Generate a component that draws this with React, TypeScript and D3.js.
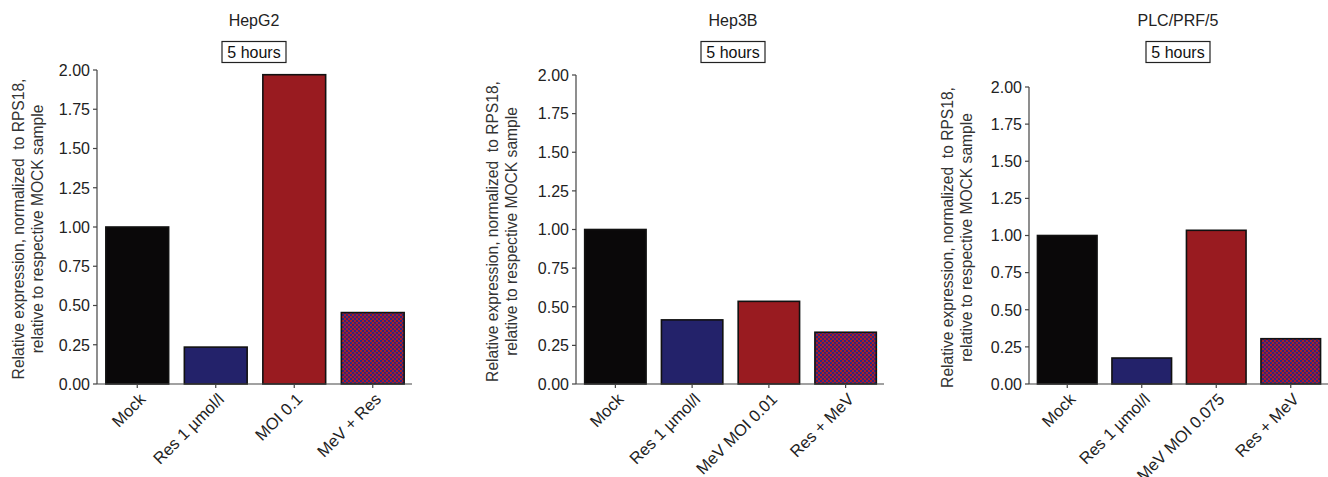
import React from "react";
import * as d3 from "d3";

const panelTitles = ["HepG2", "Hep3B", "PLC/PRF/5"];
const timeLabel = "5 hours";
const categories = [
  ["Mock", "Res 1 µmol/l", "MOI 0.1", "MeV + Res"],
  ["Mock", "Res 1 µmol/l", "MeV MOI 0.01", "Res + MeV"],
  ["Mock", "Res 1 µmol/l", "MeV MOI 0.075", "Res + MeV"],
];
const values = [
  [1.0, 0.235, 1.97, 0.455],
  [1.0, 0.415, 0.535, 0.335],
  [1.0, 0.175, 1.035, 0.305],
];
const yTicks = [0, 0.25, 0.5, 0.75, 1.0, 1.25, 1.5, 1.75, 2.0];
const yLabelLines = ["Relative expression, normalized  to RPS18,", "relative to respective MOCK sample"];

const layouts = [
  { axisX: 97, axisEnd: 412, yTop: 70, yBottom: 384, titleX: 254, labelX: 24 },
  { axisX: 576, axisEnd: 884, yTop: 75, yBottom: 384, titleX: 733, labelX: 498 },
  { axisX: 1029, axisEnd: 1328, yTop: 87, yBottom: 384, titleX: 1178, labelX: 953 },
];

const fills = ["#0a0809", "#23226a", "#991b20", "url(#check)"];
const FONT = "'Liberation Sans', Arial, sans-serif";

function Panel({ idx }: { idx: number }) {
  const L = layouts[idx];
  const cats = categories[idx];
  const vals = values[idx];
  const y = d3.scaleLinear().domain([0, 2]).range([L.yBottom, L.yTop]);
  const x = d3
    .scaleBand<string>()
    .domain(cats)
    .range([L.axisX + 1, L.axisEnd])
    .paddingInner(0.2)
    .paddingOuter(0.1);
  const boxW = 64;
  return (
    <g fontFamily={FONT}>
      <text x={L.titleX} y={26} textAnchor="middle" fontSize={16} fill="#222">
        {panelTitles[idx]}
      </text>
      <rect x={L.titleX - boxW / 2} y={41.5} width={boxW} height={21} fill="white" stroke="#222" strokeWidth={1.2} />
      <text x={L.titleX} y={57.5} textAnchor="middle" fontSize={16} fill="#111">
        {timeLabel}
      </text>
      <text
        transform={`translate(${L.labelX},${(L.yTop + L.yBottom) / 2 + 2}) rotate(-90)`}
        textAnchor="middle"
        fontSize={15.6}
        fill="#333"
        style={{ whiteSpace: "pre" }}
      >
        <tspan x={0} dy={0}>{yLabelLines[0]}</tspan>
        <tspan x={0} dy={19}>{yLabelLines[1]}</tspan>
      </text>
      {cats.map((c, i) => (
        <rect
          key={c}
          x={x(c)}
          y={y(vals[i])}
          width={x.bandwidth()}
          height={y(0) - y(vals[i])}
          fill={fills[i]}
          stroke="#111"
          strokeWidth={1.6}
        />
      ))}
      <line x1={L.axisX} x2={L.axisX} y1={L.yTop} y2={L.yBottom} stroke="#444" strokeWidth={1.2} />
      {yTicks.map((t) => (
        <g key={t}>
          <line x1={L.axisX - 4} x2={L.axisX} y1={y(t)} y2={y(t)} stroke="#444" strokeWidth={1.2} />
          <text x={L.axisX - 7} y={y(t)} dy="0.36em" textAnchor="end" fontSize={16} fill="#222">
            {d3.format(".2f")(t)}
          </text>
        </g>
      ))}
      <line x1={L.axisX} x2={L.axisEnd} y1={L.yBottom} y2={L.yBottom} stroke="#444" strokeWidth={1.2} />
      {cats.map((c) => {
        const cx = (x(c) as number) + x.bandwidth() / 2;
        return (
          <g key={c}>
            <line x1={cx} x2={cx} y1={L.yBottom} y2={L.yBottom + 4} stroke="#444" strokeWidth={1.2} />
            <text
              transform={`translate(${cx + 1},${L.yBottom + 8}) rotate(-45)`}
              textAnchor="end"
              dy="0.71em"
              fontSize={16.5}
              fill="#222"
            >
              {c}
            </text>
          </g>
        );
      })}
    </g>
  );
}

export default function App() {
  return (
    <svg width={1328} height={477} style={{ display: "block", position: "absolute", left: 0, top: 0 }}>
      <defs>
        <pattern id="check" patternUnits="userSpaceOnUse" width={4} height={4}>
          <rect width={4} height={4} fill="#ad1d28" />
          <rect x={0} y={0} width={2} height={2} fill="#2c2880" />
          <rect x={2} y={2} width={2} height={2} fill="#2c2880" />
        </pattern>
      </defs>
      <rect width={1328} height={477} fill="white" />
      {[0, 1, 2].map((i) => (
        <Panel key={i} idx={i} />
      ))}
    </svg>
  );
}
